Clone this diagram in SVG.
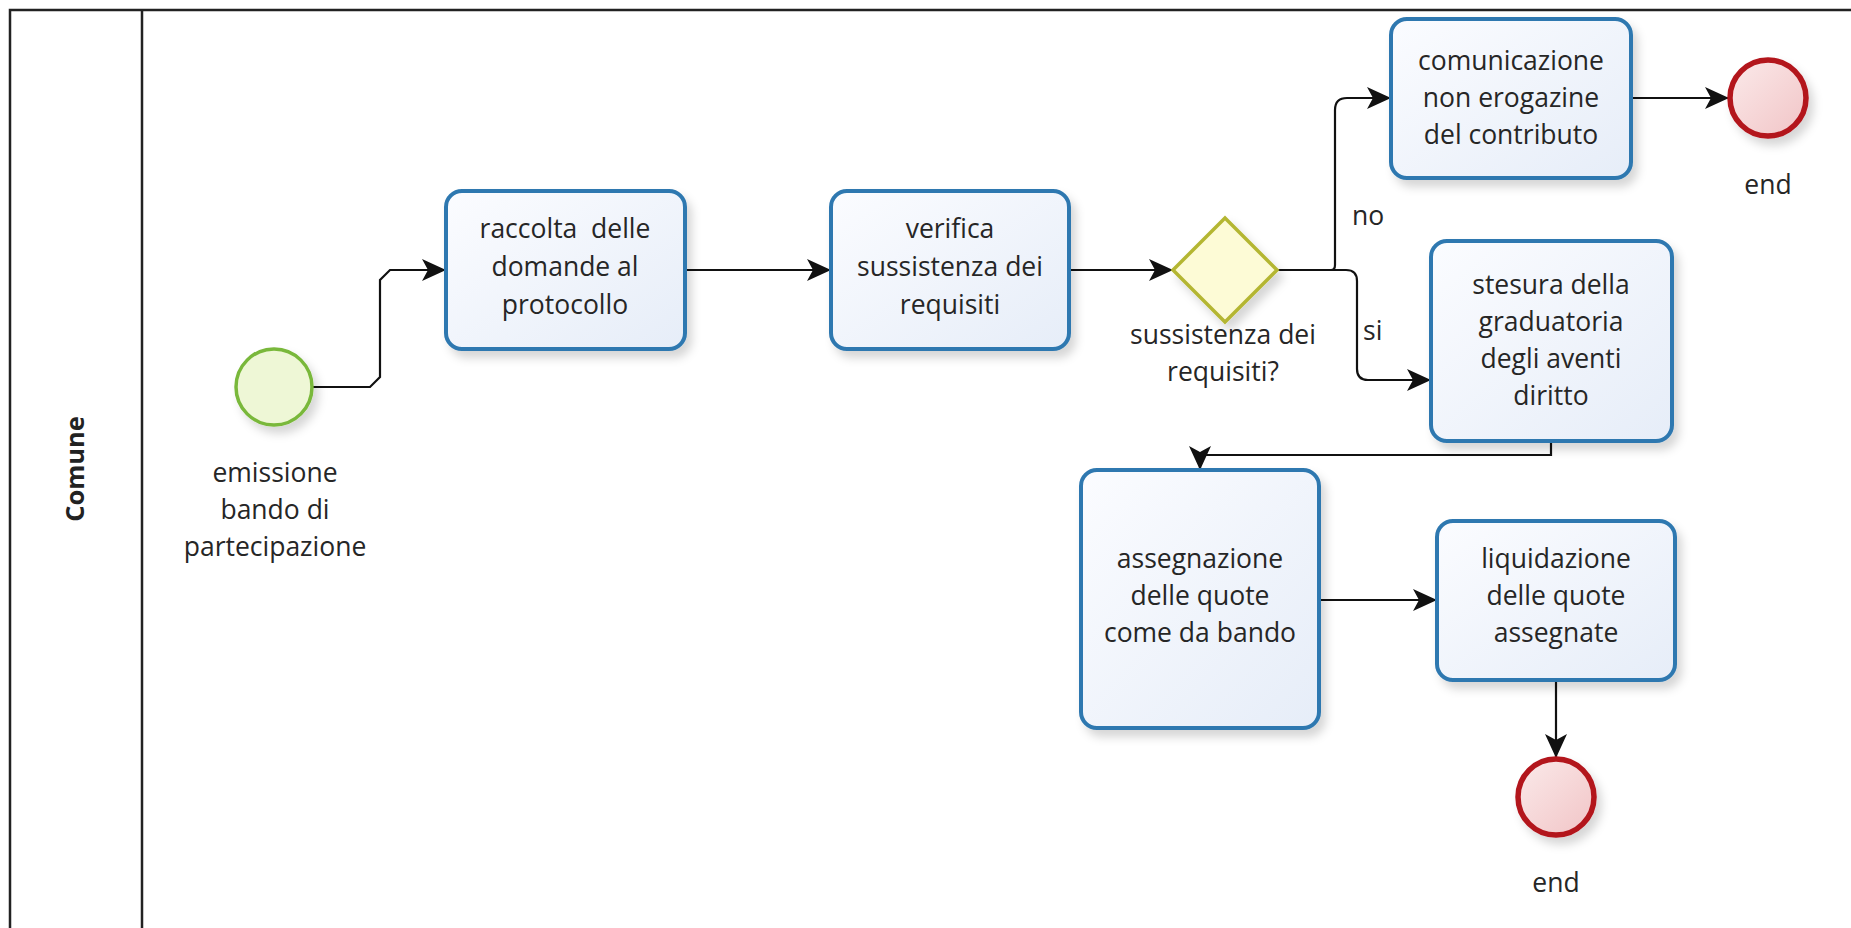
<svg xmlns="http://www.w3.org/2000/svg" width="1851" height="928" viewBox="0 0 1851 928">
<defs>
<style>
.task{fill:url(#gTask);stroke:#2e78b0;stroke-width:4;filter:url(#sh)}
.t{font-family:"Open Sans","DejaVu Sans",sans-serif;font-size:26.5px;fill:#262626;text-anchor:middle}
.l{font-family:"Open Sans","DejaVu Sans",sans-serif;font-size:26.5px;fill:#262626}
.ca{fill:none;stroke:#111;stroke-width:2.2;marker-end:url(#arr)}
.endc{fill:url(#gEnd);stroke:#b3141c;stroke-width:5.5;filter:url(#sh)}
</style>
<linearGradient id="gTask" x1="0" y1="0" x2="1" y2="1">
<stop offset="0" stop-color="#fbfcff"/><stop offset="1" stop-color="#e6edf8"/>
</linearGradient>
<linearGradient id="gEnd" x1="0" y1="0" x2="1" y2="1">
<stop offset="0" stop-color="#fbeaea"/><stop offset="1" stop-color="#f1c4c6"/>
</linearGradient>
<filter id="sh" x="-20%" y="-20%" width="150%" height="150%">
<feDropShadow dx="5" dy="7" stdDeviation="5" flood-color="#000" flood-opacity="0.16"/>
</filter>
<marker id="arr" markerUnits="userSpaceOnUse" markerWidth="26" markerHeight="24" refX="24" refY="11" orient="auto">
<path d="M0,0 L24,11 L0,22 L6,11 z" fill="#111"/>
</marker>
</defs>
<rect x="0" y="0" width="1851" height="928" fill="#fff"/>
<g id="lane">
<rect x="10" y="10" width="1870" height="940" fill="none" stroke="#222" stroke-width="2.5"/>
<line x1="142" y1="10" x2="142" y2="940" stroke="#222" stroke-width="2.5"/>
<text transform="translate(84,469) rotate(-90)" font-family="Open Sans, DejaVu Sans, sans-serif" font-size="25.5" font-weight="bold" fill="#222" text-anchor="middle">Comune</text>
</g>
<g id="connectors">
<path class="ca" d="M313,387 H370 L380,377 V280 L390,270 H446"/>
<path class="ca" d="M685,270 H831"/>
<path class="ca" d="M1069,270 H1173"/>
<path class="ca" d="M1277,270 H1331 Q1335,270 1335,265 V110 Q1335,98 1347,98 H1391"/>
<path class="ca" d="M1331,270 H1346 Q1357,270 1357,281 V369 Q1357,380 1368,380 H1431"/>
<path class="ca" d="M1631,98 H1729"/>
<path class="ca" d="M1551,441 V455 H1200 V470"/>
<path class="ca" d="M1319,600 H1437"/>
<path class="ca" d="M1556,680 V758"/>
<text class="l" x="1352" y="225">no</text>
<text class="l" x="1363" y="340">si</text>
</g>
<g id="start">
<circle cx="274" cy="387" r="38" fill="#eef7d6" stroke="#79b83a" stroke-width="3.5" filter="url(#sh)"/>
<text class="t" x="275" y="482">emissione</text>
<text class="t" x="275" y="519">bando di</text>
<text class="t" x="275" y="556">partecipazione</text>
</g>
<g id="raccolta">
<rect class="task" x="446" y="191" width="239" height="158" rx="16"/>
<text class="t" x="565" y="238" xml:space="preserve">raccolta  delle</text>
<text class="t" x="565" y="276">domande al</text>
<text class="t" x="565" y="314">protocollo</text>
</g>
<g id="verifica">
<rect class="task" x="831" y="191" width="238" height="158" rx="16"/>
<text class="t" x="950" y="238">verifica</text>
<text class="t" x="950" y="276">sussistenza dei</text>
<text class="t" x="950" y="314">requisiti</text>
</g>
<g id="gateway">
<path d="M1225,218 L1277,270 L1225,322 L1173,270 z" fill="#fdfbd6" stroke="#b4b632" stroke-width="3.5" filter="url(#sh)"/>
<text class="t" x="1223" y="344">sussistenza dei</text>
<text class="t" x="1223" y="381">requisiti?</text>
</g>
<g id="comunicazione">
<rect class="task" x="1391" y="19" width="240" height="159" rx="16"/>
<text class="t" x="1511" y="70">comunicazione</text>
<text class="t" x="1511" y="107">non erogazine</text>
<text class="t" x="1511" y="144">del contributo</text>
</g>
<g id="end1">
<circle class="endc" cx="1768" cy="98" r="38"/>
<text class="t" x="1768" y="194">end</text>
</g>
<g id="stesura">
<rect class="task" x="1431" y="241" width="241" height="200" rx="16"/>
<text class="t" x="1551" y="294">stesura della</text>
<text class="t" x="1551" y="331">graduatoria</text>
<text class="t" x="1551" y="368">degli aventi</text>
<text class="t" x="1551" y="405">diritto</text>
</g>
<g id="assegnazione">
<rect class="task" x="1081" y="470" width="238" height="258" rx="16"/>
<text class="t" x="1200" y="568">assegnazione</text>
<text class="t" x="1200" y="605">delle quote</text>
<text class="t" x="1200" y="642">come da bando</text>
</g>
<g id="liquidazione">
<rect class="task" x="1437" y="521" width="238" height="159" rx="16"/>
<text class="t" x="1556" y="568">liquidazione</text>
<text class="t" x="1556" y="605">delle quote</text>
<text class="t" x="1556" y="642">assegnate</text>
</g>
<g id="end2">
<circle class="endc" cx="1556" cy="797" r="38"/>
<text class="t" x="1556" y="892">end</text>
</g>
</svg>
